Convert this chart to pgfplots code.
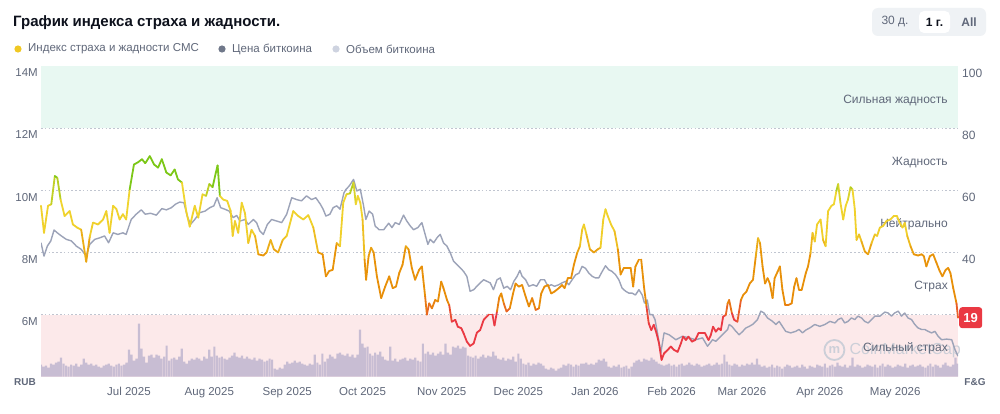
\documentclass[border=0pt]{standalone}
\usepackage{fontspec}
\setmainfont{Liberation Sans}
\usepackage{pgfplots}
\pgfplotsset{compat=1.18}
\usepackage{pgfplotstable}

\definecolor{bandgreen}{RGB}{232,248,242}
\definecolor{bandred}{RGB}{252,233,234}
\definecolor{gridc}{RGB}{192,197,208}
\definecolor{pricec}{RGB}{156,163,184}
\definecolor{volc}{RGB}{200,189,211}
\definecolor{labelc}{RGB}{96,104,122}
\definecolor{titlec}{RGB}{13,17,28}
\definecolor{fgred}{RGB}{234,57,67}
\definecolor{btnbg}{RGB}{239,242,245}
\definecolor{wmark}{RGB}{204,207,216}
\definecolor{dotfg}{RGB}{240,200,35}
\definecolor{dotprice}{RGB}{112,120,138}
\definecolor{dotvol}{RGB}{206,211,224}

% Fear & Greed index (day from 27 May 2025, value 0-100)
\pgfplotstableread[row sep=\\]{
d v\\ 0 55\\ 1.2 46.3\\ 2.8 55\\ 4.1 55.5\\ 5.5 64.6\\ 6.5 64\\ 7.8 57\\ 9.4 51.7\\ 11.4 53.3\\ 12.7 49\\ 14.4 48\\ 16 47.3\\ 18 37\\ 19.4 45\\ 20.7 49.6\\ 22.7 49\\ 24.7 50.6\\ 26 53.3\\ 27.3 46.3\\ 28.7 55\\ 30 54\\ 31.3 50.6\\ 32.6 52.3\\ 33.9 50.6\\ 35.3 60.3\\ 37 68.3\\ 38.6 69\\ 40.2 70\\ 41.5 68.7\\ 43.3 71\\ 45 68.3\\ 46.6 67.3\\ 48.1 70\\ 49.9 65.7\\ 51.6 64.8\\ 53.2 66.7\\ 54.5 63.5\\ 56.1 62.5\\ 57.8 53.3\\ 59.2 48.3\\ 61.2 55\\ 62.6 51.2\\ 64.3 58.7\\ 65.7 58.2\\ 67 62\\ 68.3 61\\ 69.6 65.7\\ 70.3 68\\ 71.2 58.2\\ 72.5 57\\ 74.1 56.6\\ 75.5 53.3\\ 76.3 45.3\\ 77.2 50.1\\ 78.5 46.3\\ 79.9 56\\ 81.2 52.6\\ 82.5 43\\ 83.8 47.3\\ 85.2 45.3\\ 86.5 39.4\\ 88.5 39\\ 89.8 40\\ 91.4 44\\ 92.7 41\\ 94.4 40\\ 96.2 44\\ 97.8 45.3\\ 100.4 53.3\\ 102.4 51.7\\ 104.4 50.6\\ 106.4 52\\ 108.4 48\\ 110.3 40\\ 112.1 39.4\\ 113.4 32.3\\ 114.7 34\\ 116.1 34.4\\ 117.7 43\\ 119 42\\ 120.3 56\\ 121.6 58.7\\ 123 59\\ 124.4 62.5\\ 125.3 55.5\\ 126.1 58.2\\ 127.1 56\\ 128 50.6\\ 128.8 37.7\\ 129.4 31.2\\ 130.4 38.8\\ 131.4 41.5\\ 132.4 40\\ 133.7 32.3\\ 135.4 25.3\\ 137 29\\ 138.6 32.3\\ 140 28.5\\ 141.3 29\\ 142.6 33.4\\ 143.9 36\\ 145.2 42\\ 146.3 41\\ 147.6 35\\ 148.9 31.2\\ 150.5 34.4\\ 151.6 35.5\\ 152.9 25.8\\ 153.6 20\\ 154.5 23.6\\ 155.6 22\\ 156.9 24.7\\ 158 24.2\\ 159.3 30.6\\ 160.2 28.5\\ 161.6 24.7\\ 162.5 23\\ 163.5 17.7\\ 164.9 18.3\\ 165.9 16.1\\ 167.3 15.6\\ 168.2 14\\ 169.5 11.3\\ 170.8 9.9\\ 172.2 10.7\\ 173.5 14.2\\ 174.8 15\\ 176.2 18.3\\ 178.2 20\\ 179.7 20\\ 180.5 16.5\\ 181.5 21\\ 182.4 25.5\\ 183.2 26.8\\ 184.2 23.6\\ 185.3 21\\ 186.6 22\\ 187.9 26.8\\ 188.9 30\\ 190.2 29\\ 191.5 29.5\\ 192.9 25.8\\ 194.2 22.6\\ 195.5 25.3\\ 196.9 21.5\\ 198.2 22\\ 199.1 26.8\\ 200.4 29\\ 201.8 29.5\\ 203.1 26.8\\ 204.4 27.4\\ 206.1 28.5\\ 207.4 29.5\\ 208.4 28.5\\ 209.7 31.7\\ 211 31.7\\ 212.1 36\\ 213.4 39.8\\ 214.5 42\\ 215.4 47.3\\ 216.1 49\\ 217.1 45.8\\ 218.5 41\\ 220.1 40\\ 221.6 41\\ 222.7 41.5\\ 223.8 50.6\\ 224.7 53.9\\ 225.6 51.7\\ 226.9 49\\ 228.3 46.8\\ 229.6 41\\ 230.7 32.9\\ 232 35\\ 233.3 35\\ 234.7 35\\ 235.7 29\\ 236.6 35.5\\ 238 37.7\\ 238.9 37.7\\ 240 29\\ 241 22.6\\ 241.9 17.2\\ 242.9 15\\ 243.9 16.7\\ 245 14\\ 246 10.7\\ 247 5.4\\ 248 7.5\\ 249.4 8.6\\ 250.7 9.7\\ 252 8.6\\ 253.4 8\\ 254.7 10.7\\ 255.6 12.9\\ 256.7 11.8\\ 257.7 12.9\\ 259.1 11.3\\ 260.4 11.8\\ 261.7 14\\ 263 14\\ 264.3 14\\ 265.7 11.8\\ 266.6 13.4\\ 267.5 16.1\\ 268.6 14.5\\ 269.7 15.6\\ 270.6 15\\ 271.5 19.3\\ 272.6 19.9\\ 273.3 23.6\\ 273.9 24.7\\ 275 20.4\\ 275.9 18.3\\ 277.2 17.7\\ 278.6 24.7\\ 279.5 26.3\\ 280.8 27.4\\ 282.1 30\\ 283.4 31.2\\ 284.5 38.7\\ 285.4 44.6\\ 286.2 43\\ 287.2 35.5\\ 288.2 30\\ 289.2 31.7\\ 290.1 30\\ 291.2 25.3\\ 292 31.7\\ 293.2 33.8\\ 294.1 35.5\\ 295.1 28\\ 296.2 23.1\\ 297.5 23.1\\ 298.8 23.6\\ 299.8 29\\ 300.7 31.7\\ 301.7 28\\ 302.8 28\\ 304.4 33.3\\ 305.3 35.5\\ 306.3 39.8\\ 307.1 46.3\\ 308 43.5\\ 308.9 49\\ 310.3 50.6\\ 311.3 44\\ 312.3 42\\ 313.3 53.3\\ 314.6 55\\ 315.6 55.5\\ 316.6 59.8\\ 317.3 62\\ 318.2 56\\ 319.3 50.6\\ 320.3 55\\ 321.2 57\\ 322.2 61\\ 323 60.3\\ 323.9 54\\ 324.6 44\\ 325.6 45.8\\ 326.6 43.5\\ 327.9 40.3\\ 329.2 39.4\\ 330.6 43\\ 331.9 45.8\\ 332.8 45.3\\ 333.9 48\\ 335.2 48.5\\ 336.5 50.1\\ 338.1 50.6\\ 339.4 51.7\\ 340.7 51.7\\ 341.8 49.5\\ 342.9 48\\ 343.8 49.5\\ 344.8 45.3\\ 346.1 42\\ 347.4 39.4\\ 349.1 39\\ 350.5 39.4\\ 351.4 38.8\\ 352.4 35.5\\ 353.8 38.8\\ 355.1 39.4\\ 356.4 36.7\\ 357.7 34\\ 358.8 32.3\\ 360.1 34.4\\ 361.1 35\\ 362 33.3\\ 363.1 28.5\\ 364.4 23.6\\ 365 19\\
}\fgtable

% Bitcoin price, millions of RUB
\pgfplotstableread[row sep=\\]{
d p\\ 0 8.31\\ 1.2 7.88\\ 2.5 8.2\\ 3.9 8.37\\ 5.2 8.72\\ 6.5 8.63\\ 8.1 8.53\\ 10.1 8.42\\ 12.1 8.37\\ 14.1 8.2\\ 16 8.1\\ 18 7.88\\ 19.4 8.26\\ 21.4 8.42\\ 23.4 8.47\\ 25.3 8.53\\ 26.9 8.31\\ 28.7 8.63\\ 30.6 8.58\\ 32.6 8.63\\ 33.9 8.58\\ 35.9 9.06\\ 37.9 9.23\\ 39.9 9.37\\ 41.5 9.23\\ 43.6 9.26\\ 45.9 9.2\\ 48.1 9.41\\ 49.9 9.37\\ 51.9 9.44\\ 53.5 9.55\\ 55.2 9.62\\ 56.9 9.6\\ 58.2 9.17\\ 59.5 8.9\\ 61.2 9.06\\ 63.2 9.28\\ 65.3 9.33\\ 67.2 9.44\\ 68.8 9.5\\ 70.1 9.76\\ 71.5 9.44\\ 73.2 9.39\\ 74.9 9.33\\ 76.5 9.12\\ 77.9 9.19\\ 79.2 9.01\\ 81.2 9.06\\ 82.5 8.9\\ 84.5 9.06\\ 85.8 8.96\\ 87.1 8.69\\ 88.5 8.58\\ 90.1 8.9\\ 91.8 9.06\\ 93.8 9.01\\ 95.8 8.96\\ 97.8 9.23\\ 99.8 9.76\\ 101.8 9.7\\ 103.7 9.66\\ 105.7 9.82\\ 107.7 9.7\\ 109.4 9.76\\ 111.2 9.55\\ 112.3 9.39\\ 113.4 9.17\\ 115 9.23\\ 116.3 9.44\\ 117.7 9.5\\ 119 9.39\\ 120.6 9.92\\ 121.4 10.03\\ 122.7 10.14\\ 124.4 10.35\\ 125.7 9.98\\ 127.1 10.03\\ 128.4 9.5\\ 129.3 9.06\\ 130.6 9.33\\ 132 9.23\\ 133 8.85\\ 134.6 8.73\\ 136.4 8.73\\ 138.4 8.94\\ 139.7 8.8\\ 141 8.96\\ 142.6 8.9\\ 144.3 9.2\\ 145.6 9.01\\ 147 8.85\\ 148.3 8.73\\ 150 8.8\\ 151.6 8.96\\ 152.9 8.58\\ 154 8.26\\ 154.9 8.42\\ 156.3 8.31\\ 157.6 8.47\\ 158.9 8.58\\ 160.2 8.31\\ 161.6 8.2\\ 162.9 7.99\\ 164.2 7.72\\ 165.5 7.61\\ 166.9 7.5\\ 168.2 7.39\\ 169.5 7.23\\ 170.8 6.75\\ 172.2 6.8\\ 173.5 6.91\\ 174.8 7.02\\ 176.2 7.12\\ 177.5 7.07\\ 178.8 7.02\\ 180.1 6.8\\ 181.5 7.12\\ 182.8 7.18\\ 184.2 6.85\\ 185.6 6.91\\ 186.9 6.8\\ 188.2 7.07\\ 189.5 7.23\\ 190.6 7.42\\ 191.5 7.23\\ 192.9 7.12\\ 194.2 6.91\\ 195.9 6.96\\ 197.3 6.91\\ 198.8 7.12\\ 200.4 7.12\\ 201.8 6.91\\ 203.1 6.96\\ 204.4 6.91\\ 206.1 6.96\\ 207.4 7.02\\ 208.8 7.07\\ 210.1 6.96\\ 211.4 7.12\\ 212.8 7.28\\ 214.1 7.33\\ 215.4 7.55\\ 216.7 7.49\\ 218.1 7.33\\ 219.4 7.23\\ 220.7 7.18\\ 222 7.18\\ 223.4 7.39\\ 224.7 7.57\\ 226 7.44\\ 227.3 7.39\\ 228.7 7.28\\ 230 7.12\\ 231.3 6.85\\ 232.7 6.75\\ 234 6.69\\ 235.3 6.69\\ 236.6 6.63\\ 238 6.8\\ 239.3 6.63\\ 240.2 6.37\\ 241.3 6.47\\ 242.3 6\\ 243.4 6\\ 244.4 5.84\\ 245.4 5.4\\ 246.7 4.76\\ 248 5.41\\ 250 5.35\\ 252.7 5.19\\ 255.3 5.3\\ 258 5.25\\ 260.6 5.19\\ 263.3 5.25\\ 265.3 4.98\\ 267.3 5.19\\ 268.6 5.14\\ 270.6 5.3\\ 273.3 5.52\\ 273.9 5.68\\ 275 5.62\\ 276.6 5.46\\ 277.9 5.35\\ 279.3 5.46\\ 280.6 5.57\\ 281.9 5.62\\ 283.2 5.68\\ 285.2 5.84\\ 286.5 6.11\\ 287.8 6.05\\ 289.2 5.89\\ 291.2 5.78\\ 292.5 5.68\\ 293.8 5.78\\ 295.1 5.62\\ 296.4 5.46\\ 298.4 5.41\\ 300.4 5.46\\ 301.7 5.52\\ 303.1 5.41\\ 304.4 5.5\\ 306 5.57\\ 308 5.68\\ 310 5.62\\ 312 5.68\\ 314 5.78\\ 316 5.73\\ 317.3 5.84\\ 318.6 5.89\\ 319.9 5.73\\ 321.2 5.78\\ 322.6 5.89\\ 323.9 5.84\\ 325.2 5.95\\ 326.6 5.89\\ 327.9 5.78\\ 329.2 5.73\\ 330.6 5.84\\ 331.9 5.95\\ 333.9 5.95\\ 335.9 6.08\\ 337.2 6.05\\ 338.5 5.95\\ 339.8 6.05\\ 341.2 6.11\\ 342.5 5.95\\ 343.8 6.05\\ 345.1 5.89\\ 346.5 5.84\\ 347.8 5.68\\ 349.1 5.57\\ 350.5 5.52\\ 351.8 5.52\\ 353.1 5.46\\ 354.5 5.41\\ 355.8 5.46\\ 357.1 5.3\\ 358.5 5.19\\ 360.5 5.21\\ 362.5 5.19\\ 363.8 4.87\\ 365 4.66\\
}\pricetable

% Daily trading volume (relative units), one value per day
\pgfplotstableread[row sep=\\]{
vol\\
12\\ 10\\ 11\\ 9\\ 13\\ 12\\ 14\\ 15\\ 19\\ 13\\
11\\ 10\\ 12\\ 11\\ 13\\ 10\\ 12\\ 18\\ 14\\ 12\\
13\\ 11\\ 12\\ 10\\ 9\\ 11\\ 12\\ 13\\ 11\\ 10\\
12\\ 13\\ 11\\ 12\\ 14\\ 27\\ 22\\ 16\\ 18\\ 53\\
28\\ 20\\ 14\\ 21\\ 22\\ 19\\ 22\\ 21\\ 18\\ 20\\
31\\ 16\\ 18\\ 19\\ 17\\ 20\\ 28\\ 15\\ 13\\ 16\\
18\\ 17\\ 19\\ 18\\ 16\\ 20\\ 18\\ 27\\ 20\\ 30\\
21\\ 19\\ 20\\ 18\\ 17\\ 19\\ 21\\ 24\\ 20\\ 19\\
21\\ 18\\ 20\\ 18\\ 17\\ 19\\ 16\\ 18\\ 17\\ 15\\
16\\ 18\\ 17\\ 8\\ 7\\ 9\\ 8\\ 12\\ 15\\ 13\\
14\\ 16\\ 14\\ 15\\ 13\\ 12\\ 11\\ 13\\ 12\\ 22\\
14\\ 12\\ 23\\ 15\\ 18\\ 22\\ 20\\ 18\\ 23\\ 24\\
22\\ 21\\ 23\\ 20\\ 22\\ 19\\ 22\\ 47\\ 33\\ 29\\
30\\ 23\\ 21\\ 24\\ 22\\ 25\\ 20\\ 17\\ 16\\ 30\\
16\\ 18\\ 15\\ 17\\ 18\\ 19\\ 16\\ 18\\ 17\\ 19\\
16\\ 15\\ 33\\ 23\\ 25\\ 22\\ 24\\ 21\\ 23\\ 25\\
22\\ 33\\ 24\\ 22\\ 30\\ 29\\ 31\\ 28\\ 30\\ 29\\
21\\ 20\\ 19\\ 21\\ 18\\ 20\\ 22\\ 19\\ 21\\ 20\\
25\\ 21\\ 18\\ 17\\ 19\\ 16\\ 18\\ 17\\ 20\\ 15\\
23\\ 18\\ 13\\ 12\\ 14\\ 11\\ 13\\ 12\\ 14\\ 13\\
11\\ 8\\ 7\\ 9\\ 8\\ 6\\ 8\\ 9\\ 12\\ 11\\
13\\ 12\\ 10\\ 12\\ 11\\ 13\\ 13\\ 14\\ 12\\ 13\\
12\\ 14\\ 17\\ 16\\ 18\\ 15\\ 10\\ 9\\ 11\\ 10\\
12\\ 9\\ 10\\ 11\\ 8\\ 10\\ 14\\ 16\\ 17\\ 15\\
18\\ 17\\ 16\\ 19\\ 17\\ 15\\ 13\\ 12\\ 11\\ 12\\
13\\ 11\\ 12\\ 10\\ 12\\ 13\\ 11\\ 12\\ 14\\ 12\\
11\\ 13\\ 12\\ 10\\ 11\\ 12\\ 13\\ 11\\ 12\\ 14\\
12\\ 13\\ 22\\ 15\\ 12\\ 11\\ 13\\ 12\\ 10\\ 12\\
11\\ 13\\ 12\\ 14\\ 12\\ 18\\ 12\\ 10\\ 11\\ 9\\
10\\ 12\\ 9\\ 11\\ 10\\ 8\\ 10\\ 12\\ 11\\ 9\\
10\\ 11\\ 9\\ 12\\ 10\\ 8\\ 11\\ 10\\ 9\\ 12\\
11\\ 10\\ 13\\ 9\\ 11\\ 12\\ 10\\ 14\\ 11\\ 10\\
12\\ 9\\ 11\\ 19\\ 10\\ 12\\ 11\\ 9\\ 10\\ 12\\
11\\ 10\\ 12\\ 9\\ 11\\ 13\\ 10\\ 12\\ 11\\ 9\\
10\\ 12\\ 11\\ 10\\ 13\\ 9\\ 11\\ 12\\ 10\\ 11\\
12\\ 10\\ 9\\ 11\\ 13\\ 10\\ 12\\ 11\\ 9\\ 12\\
14\\ 11\\ 10\\ 12\\ 19\\ 13\\
}\voltable

\pgfplotsset{
  base/.style={
    scale only axis, width=917pt, height=310.7pt,
    at={(41pt,36.3pt)}, anchor=south west,
    xmin=0, xmax=365,
    axis line style={draw=none}, major tick length=0pt,
    tick label style={font=\fontsize{11.5}{13}\selectfont, text=labelc},
  },
}
\tikzset{zonelabel/.style={anchor=east, inner sep=0pt, text=labelc, font=\fontsize{12}{14}\selectfont}}

\begin{document}
\begin{tikzpicture}[x=1pt,y=1pt]
\fill[white] (0,0) rectangle (1000,413);
\useasboundingbox (0,0) rectangle (1000,413);

% title
\node[anchor=west, inner sep=0pt, text=titlec, font=\bfseries\fontsize{15}{18}\selectfont] at (13,390) {График индекса страха и жадности.};

% legend
\fill[dotfg] (18,364) circle (3.6);
\node[anchor=west, inner sep=0pt, text=labelc, font=\fontsize{11.5}{13}\selectfont] at (28,364) {Индекс страха и жадности CMC};
\fill[dotprice] (222,364) circle (3.6);
\node[anchor=west, inner sep=0pt, text=labelc, font=\fontsize{11.5}{13}\selectfont] at (232,364) {Цена биткоина};
\fill[dotvol] (336,364) circle (3.6);
\node[anchor=west, inner sep=0pt, text=labelc, font=\fontsize{11.5}{13}\selectfont] at (346,364) {Объем биткоина};

% range selector
\fill[btnbg, rounded corners=6pt] (872,377) rectangle (986,405);
\fill[white, rounded corners=5pt] (919,380) rectangle (950,402);
\node[text=labelc, font=\fontsize{12}{14}\selectfont] at (895,391) {30 д.};
\node[text=titlec, font=\bfseries\fontsize{12}{14}\selectfont] at (934.5,391) {1 г.};
\node[text=labelc, font=\bfseries\fontsize{12}{14}\selectfont] at (969,391) {All};

% F&G scale: zones, grid, right labels, months
\begin{axis}[base, ymin=0, ymax=100,
  axis x line*=bottom, axis y line*=right,
  ytick={20,40,60,80,100}, yticklabels={,40,60,80,100},
  ymajorgrids, grid style={gridc, line width=0.8pt, dash pattern=on 1.6pt off 2.2pt},
  yticklabel style={anchor=north west, inner sep=0pt, xshift=4pt, yshift=-2.5pt, font=\fontsize{12}{14}\selectfont},
  xtick={35,67,98,128,159.5,190,220.5,251,279,310,340},
  xticklabels={Jul 2025,Aug 2025,Sep 2025,Oct 2025,Nov 2025,Dec 2025,Jan 2026,Feb 2026,Mar 2026,Apr 2026,May 2026},
  xticklabel style={anchor=base, inner sep=0pt, yshift=-19pt},
  clip=false,
]
\addplot[draw=none, fill=bandgreen] coordinates {(0,80) (365,80) (365,100) (0,100)} -- cycle;
\addplot[draw=none, fill=bandred] coordinates {(0,0) (365,0) (365,20) (0,20)} -- cycle;
\node[zonelabel] at (axis cs:361,89) {Сильная жадность};
\node[zonelabel] at (axis cs:361,69) {Жадность};
\node[zonelabel] at (axis cs:361,49) {Нейтрально};
\node[zonelabel] at (axis cs:361,29) {Страх};
% watermark
\draw[wmark, line width=1.8pt] (axis cs:315.8,8.6) circle (10pt);
\node[text=wmark, font=\bfseries\fontsize{13}{14}\selectfont] at (axis cs:315.8,8.6) {m};
\node[anchor=west, inner sep=0pt, text=wmark, font=\fontsize{16}{18}\selectfont] at (axis cs:321.8,8.4) {CoinMarketCap};
\end{axis}

% volume bars
\begin{axis}[base, ymin=0, ymax=310.7, hide axis]
\addplot[ybar, bar width=2.2pt, fill=volc, draw=none] table[x expr=\coordindex, y=vol] {\voltable};
\end{axis}

% price, RUB scale on the left
\begin{axis}[base, ymin=4, ymax=14,
  axis x line*=bottom, axis y line*=left, xtick=\empty,
  ytick={6,8,10,12,14}, yticklabels={6M,8M,10M,12M,14M},
  yticklabel style={anchor=north east, inner sep=0pt, xshift=-3pt, yshift=-2.5pt},
]
\addplot[pricec, line width=1.4pt, line join=round] table[x=d, y=p] {\pricetable};
\end{axis}

% fear & greed line coloured by its value
\begin{axis}[base, ymin=0, ymax=100, hide axis, clip=false,
  point meta min=0, point meta max=100,
  colormap={fgmap}{rgb255(0pt)=(234,57,67); rgb255(19pt)=(234,57,67); rgb255(24pt)=(232,140,8); rgb255(39pt)=(232,148,10); rgb255(46pt)=(240,206,42); rgb255(58pt)=(240,214,48); rgb255(63pt)=(126,200,24); rgb255(100pt)=(110,196,20)},
]
\node[zonelabel] at (axis cs:361,9) {Сильный страх};
\addplot[mesh, line width=1.8pt, line cap=round, line join=round, point meta=\thisrow{v}] table[x=d, y=v] {\fgtable};
\node[fill=fgred, text=white, rounded corners=3pt, inner sep=0pt, minimum width=23pt, minimum height=21pt, font=\bfseries\fontsize{13}{14}\selectfont, anchor=west] at ([xshift=1pt]axis cs:365,19) {19};
\end{axis}

% unit captions
\node[text=labelc, font=\bfseries\fontsize{10}{11}\selectfont] at (25,31) {RUB};
\node[text=labelc, font=\bfseries\fontsize{10}{11}\selectfont] at (975,31) {F\&G};
\end{tikzpicture}
\end{document}
